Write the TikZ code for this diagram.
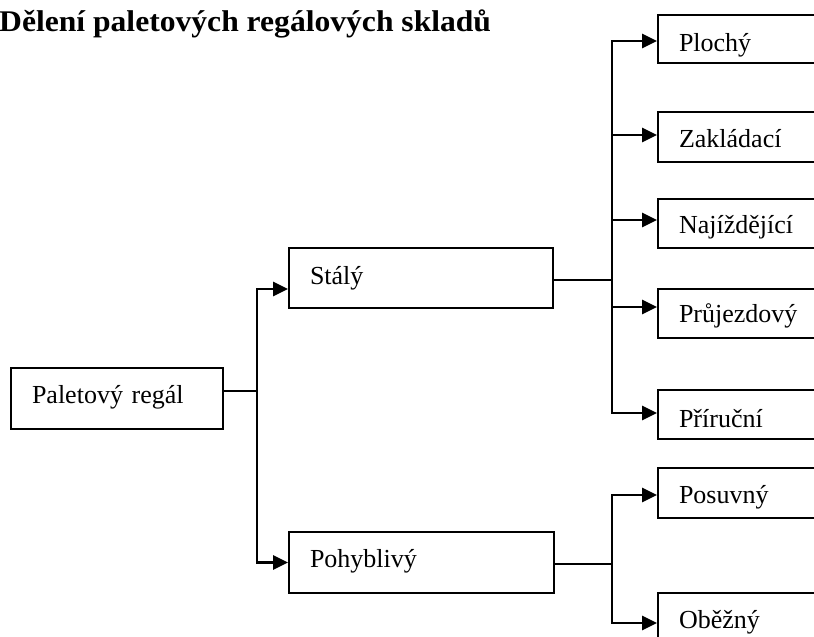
\documentclass[tikz,border=0pt]{standalone}
\usepackage{fontspec}
\usepackage{graphicx}
\setmainfont{Liberation Serif}
\usetikzlibrary{arrows.meta}
\begin{document}
\begin{tikzpicture}[x=1pt,y=-1pt,
  box/.style={draw, rectangle, line width=1.8pt, inner xsep=21pt, inner ysep=0pt,
    text depth=0pt, align=left, font=\fontsize{26}{30}\selectfont},
  leaf/.style={box, text width=140pt},
  arr/.style={line width=2.4pt, -{Triangle[length=15pt,width=14pt]}},
  feed/.style={line width=1.4pt},
  trunk/.style={line width=2.4pt}]
\useasboundingbox (0,0) rectangle (814,637);
\clip (0,0) rectangle (814,637);

% heading
\node[anchor=base west, inner sep=0pt, font=\fontsize{31.6}{36}\bfseries\selectfont]
  (title) at (-1,31) {\scalebox{1}[0.95]{Dělení paletových regálových skladů}};

% root and first level
\node[box, text width=170pt, minimum height=61pt, text height=9pt] (pr) at (117,398.5) {Paletový regál};
\node[box, text width=222pt, minimum height=60pt, text height=12pt] (st) at (421,278) {Stálý};
\node[box, text width=223pt, minimum height=61pt, text height=9pt] (po) at (421.5,562.5) {Pohyblivý};

% fixed racks
\node[leaf, minimum height=48pt, text height=24pt] (pl) at (749,39) {Plochý};
\node[leaf, minimum height=50pt, text height=20pt] (za) at (749,137) {Zakládací};
\node[leaf, minimum height=49pt, text height=19pt] (na) at (749,223.5) {Najíždějící};
\node[leaf, minimum height=49pt, text height=17pt] (pj) at (749,313.5) {Průjezdový};
\node[leaf, minimum height=49pt, text height=25pt] (pc) at (749,414.5) {Příruční};

% mobile racks
\node[leaf, minimum height=50pt, text height=20pt] (ps) at (749,493) {Posuvný};
\node[leaf, minimum height=50pt, text height=20pt] (ob) at (749,618) {Oběžný};

% junctions on the vertical buses
\coordinate (j1) at (257,391);
\coordinate (j2) at (612,280);
\coordinate (j3) at (612,564);

% root to first level
\draw[trunk] (pr.east |- j1) -- (j1);
\draw[arr] (j1) |- ([yshift=-11pt]st.west);
\draw[arr] (j1) |- (po.west);

% Stálý branches
\draw[feed] (st.east |- j2) -- (j2);
\draw[arr] (j2) |- ([yshift=-2pt]pl.west);
\draw[arr] (j2) |- ([yshift=2pt]za.west);
\draw[arr] (j2) |- ([yshift=3.5pt]na.west);
\draw[arr] (j2) |- ([yshift=6.5pt]pj.west);
\draw[arr] (j2) |- ([yshift=1.5pt]pc.west);

% Pohyblivý branches
\draw[feed] (po.east |- j3) -- (j3);
\draw[arr] (j3) |- ([yshift=-2pt]ps.west);
\draw[arr] (j3) |- ([yshift=-5pt]ob.west);
\end{tikzpicture}
\end{document}
